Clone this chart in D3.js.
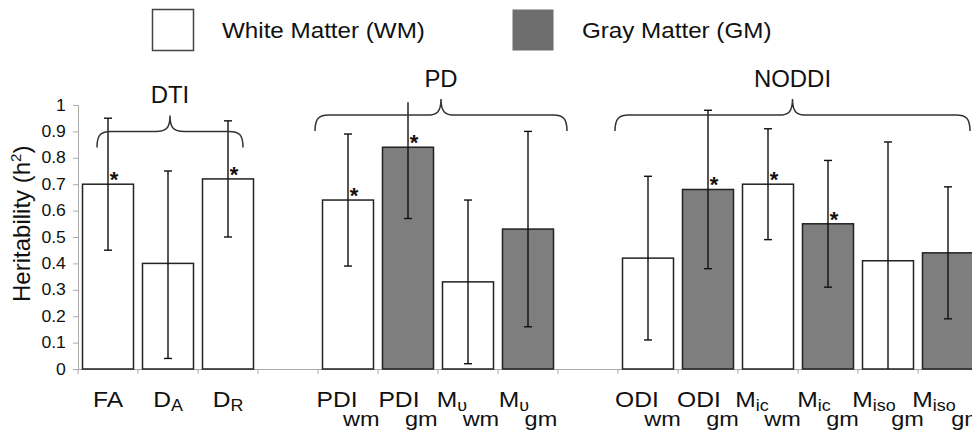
<!DOCTYPE html>
<html>
<head>
<meta charset="utf-8">
<script src="https://cdn.jsdelivr.net/npm/d3@7"></script>
<style>
  body { margin: 0; background: #fff; }
  text { font-family: "Liberation Sans", Arial, sans-serif; fill: #111; }
</style>
</head>
<body>
<script>
// measures, in plotting order ("gap" slots are the empty spaces between groups)
const categories = ["FA", "DA", "DR", "gap1", "PDIwm", "PDIgm", "MUwm", "MUgm",
  "gap2", "ODIwm", "ODIgm", "MICwm", "MICgm", "MISOwm", "MISOgm"];
const tissue = ["WM", "WM", "WM", null, "WM", "GM", "WM", "GM",
  null, "WM", "GM", "WM", "GM", "WM", "GM"];
const heritability = [0.70, 0.40, 0.72, null, 0.64, 0.84, 0.33, 0.53,
  null, 0.42, 0.68, 0.70, 0.55, 0.41, 0.44];
const ciLow = [0.45, 0.04, 0.50, null, 0.39, 0.57, 0.02, 0.16,
  null, 0.11, 0.38, 0.49, 0.31, -0.05, 0.19];
const ciHigh = [0.95, 0.75, 0.94, null, 0.89, 1.12, 0.64, 0.90,
  null, 0.73, 0.98, 0.91, 0.79, 0.86, 0.69];
const significant = [true, false, true, false, true, true, false, false,
  false, false, true, true, true, false, false];

// tick labels: main text, small subscript, lower subscript
const labelMain = ["FA", "D", "D", "", "PDI", "PDI", "M", "M",
  "", "ODI", "ODI", "M", "M", "M", "M"];
const labelSub = ["", "A", "R", "", "", "", "υ", "υ",
  "", "", "", "ic", "ic", "iso", "iso"];
const labelSub2 = ["", "", "", "", "wm", "gm", "wm", "gm",
  "", "wm", "gm", "wm", "gm", "gm", "gm"];

const yTicks = [0, 0.1, 0.2, 0.3, 0.4, 0.5, 0.6, 0.7, 0.8, 0.9, 1];

const groupNames = ["DTI", "PD", "NODDI"];
const groupFirst = ["FA", "PDIwm", "ODIwm"];
const groupLast = ["DR", "MUgm", "MISOgm"];

const legendKeys = ["WM", "GM"];
const legendLabels = ["White Matter (WM)", "Gray Matter (GM)"];

const fillOf = { WM: "#ffffff", GM: "#7e7e7e" };
const legendFill = { WM: "#ffffff", GM: "#6e6e6e" };

const width = 972, height = 433;

const svg = d3.select("body").append("svg")
  .attr("width", width)
  .attr("height", height);

const x = d3.scaleBand()
  .domain(categories)
  .range([78, 978])
  .paddingInner(0.15)
  .paddingOuter(0.075);

const y = d3.scaleLinear()
  .domain([0, 1])
  .range([369, 105]);

const step = x.step();
const slotStart = c => x(c) - (step - x.bandwidth()) / 2;
const cx = c => x(c) + x.bandwidth() / 2;

// the picture's lettering is a little wide, so texts get a horizontal stretch
function stretched(sel, px, py, s) {
  return sel.attr("transform", `translate(${px},${py}) scale(${s},1)`);
}

// y axis
const yAxis = svg.append("g")
  .attr("transform", `translate(78,0)`)
  .call(d3.axisLeft(y).tickValues(yTicks).tickSize(5).tickPadding(6)
    .tickFormat(d3.format("")));
yAxis.select(".domain").attr("stroke", "#aaa");
yAxis.selectAll(".tick line").attr("stroke", "#aaa");
yAxis.selectAll(".tick text")
  .attr("font-size", 16)
  .attr("font-family", "Liberation Sans, Arial, sans-serif")
  .attr("fill", "#111")
  .attr("transform", `scale(1.1,1)`);

svg.append("text")
  .attr("transform", `translate(30,${y(0.55)}) rotate(-90)`)
  .attr("text-anchor", "middle")
  .attr("font-size", 24)
  .html('Heritability (h<tspan font-size="15" dy="-9">2</tspan><tspan dy="9">)</tspan>');

// x axis line and slot ticks
svg.append("line")
  .attr("x1", 78).attr("x2", width)
  .attr("y1", y(0) + 0.5).attr("y2", y(0) + 0.5)
  .attr("stroke", "#aaa");
svg.selectAll(".xtick")
  .data(categories)
  .join("line")
  .attr("x1", d => slotStart(d)).attr("x2", d => slotStart(d))
  .attr("y1", y(0)).attr("y2", y(0) + 5)
  .attr("stroke", "#aaa");

// bars
const idx = d3.range(categories.length).filter(i => heritability[i] != null);

svg.selectAll(".bar")
  .data(idx)
  .join("rect")
  .attr("x", i => x(categories[i]))
  .attr("width", x.bandwidth())
  .attr("y", i => y(heritability[i]))
  .attr("height", i => y(0) - y(heritability[i]))
  .attr("fill", i => fillOf[tissue[i]])
  .attr("stroke", "#222")
  .attr("stroke-width", 1.5);

// error bars, clipped to the plotting area
const lo = 0, hi = 1.01;
const clampV = v => Math.max(lo, Math.min(hi, v));
const err = svg.append("g").attr("stroke", "#111").attr("stroke-width", 1.4);
idx.forEach(i => {
  const c = cx(categories[i]);
  err.append("line")
    .attr("x1", c).attr("x2", c)
    .attr("y1", y(clampV(ciLow[i]))).attr("y2", y(clampV(ciHigh[i])));
  [ciLow[i], ciHigh[i]].forEach(v => {
    if (v < lo || v > hi) return;
    err.append("line")
      .attr("x1", c - 4).attr("x2", c + 4)
      .attr("y1", y(v)).attr("y2", y(v));
  });
});

// significance stars
svg.selectAll(".star")
  .data(idx.filter(i => significant[i]))
  .join("text")
  .attr("x", i => cx(categories[i]) + 6)
  .attr("y", i => y(heritability[i]) + 3)
  .attr("text-anchor", "middle")
  .attr("font-size", 22)
  .attr("font-weight", "bold")
  .text("*");

// category labels
categories.forEach((c, i) => {
  if (!labelMain[i]) return;
  const t = stretched(svg.append("text"), cx(c), 407, 1.12)
    .attr("text-anchor", "middle")
    .attr("font-size", 22);
  t.append("tspan").text(labelMain[i]);
  if (labelSub[i]) {
    t.append("tspan").attr("font-size", 16).attr("dy", 4).text(labelSub[i]);
  }
  if (labelSub2[i]) {
    t.append("tspan")
      .attr("font-size", 21)
      .attr("dx", labelSub[i] ? -4 : -13)
      .attr("dy", labelSub[i] ? 15 : 19)
      .text(labelSub2[i]);
  }
});

// group braces
const braceLayout = [
  { l: 19, r: -15, mid: 0.9 },
  { l: -3, r: 9, mid: 0.962 },
  { l: -3, r: -8, mid: 0.962 }
];
function bracePath(x1, x2, ym) {
  const m = (x1 + x2) / 2, d = 16, r = 14;
  return `M${x1},${ym + d} C${x1},${ym + 3} ${x1 + 4},${ym} ${x1 + r},${ym}` +
    ` L${m - r},${ym} C${m - 4},${ym} ${m},${ym - 3} ${m},${ym - d}` +
    ` C${m},${ym - 3} ${m + 4},${ym} ${m + r},${ym}` +
    ` L${x2 - r},${ym} C${x2 - 4},${ym} ${x2},${ym + 3} ${x2},${ym + d}`;
}
groupNames.forEach((g, k) => {
  const lay = braceLayout[k];
  const x1 = slotStart(groupFirst[k]) + lay.l;
  const x2 = slotStart(groupLast[k]) + step + lay.r;
  const ym = y(lay.mid);
  svg.append("path")
    .attr("d", bracePath(x1, x2, ym))
    .attr("fill", "none")
    .attr("stroke", "#333")
    .attr("stroke-width", 1.5);
  stretched(svg.append("text"), (x1 + x2) / 2, ym - 28, 1.04)
    .attr("text-anchor", "middle")
    .attr("font-size", 23)
    .text(g);
});

// legend
const legendX = [152, 512];
legendKeys.forEach((k, i) => {
  svg.append("rect")
    .attr("x", legendX[i] + 0.5).attr("y", 9.5)
    .attr("width", 41).attr("height", 41)
    .attr("fill", legendFill[k])
    .attr("stroke", k === "WM" ? "#444" : "none")
    .attr("stroke-width", 1.5);
  stretched(svg.append("text"), legendX[i] + 70, 38, 1.1)
    .attr("font-size", 22)
    .text(legendLabels[i]);
});
</script>
</body>
</html>
